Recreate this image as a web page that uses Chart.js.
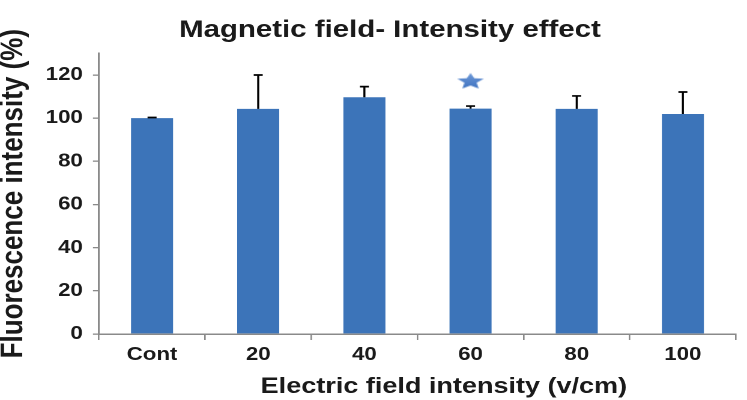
<!DOCTYPE html>
<html>
<head>
<meta charset="utf-8">
<script src="https://cdn.jsdelivr.net/npm/chart.js@4"></script>
<style>
  html, body { margin: 0; padding: 0; background: #fff; overflow: hidden; }
  /* the source picture is stretched sideways, so the chart is drawn narrow and widened */
  #wrap { width: 622px; height: 400px; transform: scaleX(1.20096); transform-origin: 0 0; }
</style>
</head>
<body>
<div id="wrap"><canvas id="chart"></canvas></div>
<script>
const categories = ['Cont', '20', '40', '60', '80', '100']
const meanValues = [100, 104.3, 109.7, 104.4, 104.3, 101.9]
const errorValues = [0.3, 15.7, 4.9, 1.2, 6, 10.2]
const starValues = [null, null, null, 117, null, null]
const yMax = 130
const yStep = 20
const yLast = 120

const chartTitle = 'Magnetic field- Intensity effect'
const xAxisTitle = 'Electric field intensity (v/cm)'
const yAxisTitle = 'Fluorescence intensity (%)'

const fontFamily = '"Liberation Sans", Arial, sans-serif'
const textColor = '#1a1a1a'
const axisColor = '#8a8a8a'

// filled star used as the significance marker
const makeStar = () => {
    const c = document.createElement('canvas')
    c.width = 26
    c.height = 18
    const ctx = c.getContext('2d')
    const cx = 13, cy = 9, rx = 11.6, ry = 8.6
    ctx.beginPath()
    for (let k = 0; k < 10; k++) {
        const a = -Math.PI / 2 + k * Math.PI / 5
        const f = k % 2 === 0 ? 1 : 0.46
        ctx.lineTo(cx + Math.cos(a) * rx * f, cy + Math.sin(a) * ry * f)
    }
    ctx.closePath()
    const g = ctx.createLinearGradient(0, 0, 0, 18)
    g.addColorStop(0, '#6f9ad8')
    g.addColorStop(1, '#3a6fbf')
    ctx.fillStyle = g
    ctx.fill()
    return c
}

const errorBars = {
    id: 'errorBars',
    afterDatasetsDraw(chart) {
        const meta = chart.getDatasetMeta(0)
        const y = chart.scales.y
        const ctx = chart.ctx
        ctx.save()
        ctx.strokeStyle = '#000'
        ctx.lineWidth = 1.7
        meta.data.forEach((bar, i) => {
            const top = y.getPixelForValue(meanValues[i] + errorValues[i])
            ctx.beginPath()
            ctx.moveTo(bar.x, bar.y)
            ctx.lineTo(bar.x, top)
            ctx.moveTo(bar.x - 3.75, top)
            ctx.lineTo(bar.x + 3.75, top)
            ctx.stroke()
        })
        ctx.restore()
    }
}

// x caption sits a little right of the plot centre in the source
const xCaption = {
    id: 'xCaption',
    afterDraw(chart) {
        const ctx = chart.ctx
        const area = chart.chartArea
        ctx.save()
        ctx.font = 'bold 22.5px ' + fontFamily
        ctx.fillStyle = textColor
        ctx.textAlign = 'center'
        ctx.textBaseline = 'middle'
        ctx.fillText(xAxisTitle, (area.left + area.right) / 2 + 22, chart.height - 13)
        ctx.restore()
    }
}

new Chart(document.getElementById('chart'), {
    type: 'bar',
    data: {
        labels: categories,
        datasets: [{
            label: 'Fluorescence',
            data: meanValues,
            backgroundColor: '#3c74b9',
            barPercentage: 1,
            categoryPercentage: 0.396,
            order: 2
        }, {
            type: 'line',
            label: 'Significant',
            data: starValues,
            showLine: false,
            pointStyle: makeStar(),
            order: 1
        }]
    },
    options: {
        responsive: true,
        maintainAspectRatio: false,
        animation: false,
        devicePixelRatio: 2,
        layout: { padding: { left: 36.6, right: 9.2, top: 0, bottom: 0 } },
        plugins: {
            legend: { display: false },
            tooltip: { enabled: false },
            title: {
                display: true,
                text: chartTitle,
                color: textColor,
                font: { family: fontFamily, size: 24.5, weight: 'bold', lineHeight: 1.2 },
                padding: { top: 15.3, bottom: 8.7 }
            }
        },
        scales: {
            x: {
                grid: { display: true, drawOnChartArea: false, drawTicks: true, tickLength: 6, color: axisColor, lineWidth: 1.3 },
                border: { color: axisColor, width: 1.5 },
                ticks: { color: textColor, padding: 4, font: { family: fontFamily, size: 18.5, weight: 'bold' } },
                afterFit: s => { s.height = 66 }
            },
            y: {
                min: 0,
                max: yMax,
                grid: { display: true, drawOnChartArea: false, drawTicks: true, tickLength: 5, color: axisColor, lineWidth: 1.3 },
                border: { color: axisColor, width: 1.5 },
                ticks: {
                    stepSize: yStep,
                    includeBounds: false,
                    padding: 8.5,
                    color: textColor,
                    font: { family: fontFamily, size: 18.5, weight: 'bold' },
                    callback: v => (v <= yLast ? v : '')
                },
                title: {
                    display: true,
                    text: yAxisTitle,
                    color: textColor,
                    font: { family: fontFamily, size: 26, weight: 'bold', lineHeight: 1 },
                    padding: { top: -38.4, bottom: 0 }
                },
                afterFit: s => { s.width = 45.8 }
            }
        }
    },
    plugins: [errorBars, xCaption]
})
</script>
</body>
</html>
